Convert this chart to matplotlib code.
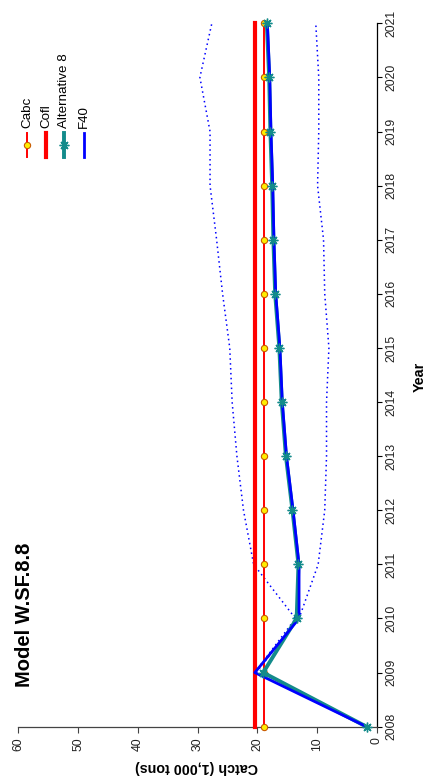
import matplotlib
matplotlib.use("Agg")
import matplotlib.pyplot as plt
from matplotlib.lines import Line2D

plt.rcParams['font.family'] = ['Liberation Sans', 'DejaVu Sans']

# ---- data -------------------------------------------------------------
years = [2008, 2009, 2010, 2011, 2012, 2013, 2014, 2015, 2016, 2017, 2018, 2019, 2020, 2021]
cabc = [18.8] * 14
cofl = [20.4] * 14
alt8 = [1.7, 19.0, 13.4, 13.1, 14.1, 15.2, 15.9, 16.3, 17.0, 17.3, 17.5, 17.8, 18.0, 18.4]
f40 = [1.7, 20.4, 13.0, 13.0, 14.0, 15.1, 15.8, 16.2, 16.9, 17.2, 17.4, 17.7, 17.9, 18.3]
ci_years = [2009, 2010, 2011, 2012, 2013, 2014, 2015, 2016, 2017, 2018, 2019, 2020, 2021]
f40_upper = [20.4, 13.6, 20.6, 22.3, 23.4, 24.2, 24.6, 25.8, 26.8, 27.9, 27.9, 29.6, 27.6]
f40_lower = [20.2, 13.0, 9.8, 8.7, 8.4, 8.4, 8.0, 8.7, 8.9, 9.9, 9.7, 9.7, 10.2]
catch_ticks = [0, 10, 20, 30, 40, 50, 60]
year_labels = [str(y) for y in years]
legend_names = ["Cabc", "Cofl", "Alternative 8", "F40"]
title = "Model W.SF.8.8"
xlabel = "Year"
ylabel = "Catch (1,000 tons)"

# ---- figure (portrait, catch runs right-to-left along the bottom) -----
W, H = 428, 778
fig = plt.figure(figsize=(W / 100, H / 100), dpi=100)
fig.patch.set_facecolor("white")

x0, x1 = 18.3, 376.7     # pixel span of catch axis (60 -> 0)
y_top, y_bot = 23.3, 726.7  # pixel span of year axis (2021 -> 2008)
ax = fig.add_axes([x0 / W, (H - y_bot) / H, (x1 - x0) / W, (y_bot - y_top) / H])
ax.set_xlim(60, 0)
ax.set_ylim(2008, 2021)

teal = "#138b8b"
blue = "#0000ff"
red = "#ff0000"

dot = (0, (1.0, 2.2))
ax.plot(f40_upper, ci_years, color=blue, lw=1.1, ls=dot, clip_on=False, zorder=2)
ax.plot(f40_lower, ci_years, color=blue, lw=1.1, ls=dot, clip_on=False, zorder=2)

ax.plot(cofl, years, color=red, lw=3.0, clip_on=False, zorder=3)
ax.plot(cabc, years, color=red, lw=1.4, marker="o", ms=4.5, mfc="#ffee00",
        mec="#c85a00", mew=0.8, clip_on=False, zorder=4)
ax.plot(alt8, years, color=teal, lw=2.8, clip_on=False, zorder=5)
ax.plot(f40, years, color=blue, lw=2.0, clip_on=False, zorder=6)
ax.plot(alt8, years, ls="none", marker=(8, 2, 0), ms=7, mec=teal, mew=1.0,
        clip_on=False, zorder=7)

# axes styling
for s in ("top", "left"):
    ax.spines[s].set_visible(False)
ax.spines["right"].set_color("black")
ax.spines["right"].set_linewidth(0.9)
ax.spines["bottom"].set_color("#444444")
ax.spines["bottom"].set_linewidth(0.9)

ax.yaxis.tick_right()
ax.set_yticks(years)
ax.set_yticklabels(year_labels, rotation=90, va="center", ha="left", fontsize=8.8,
                   color="#222222")
ax.tick_params(axis="y", length=3.5, width=0.8, pad=3)

ax.set_xticks(catch_ticks)
ax.set_xticklabels([str(t) for t in catch_ticks], rotation=90, ha="center",
                   va="top", fontsize=8.8, color="#222222")
ax.tick_params(axis="x", length=4, width=0.8, pad=3.5, color="#444444")

fig.text(420 / W, (H - 377) / H, xlabel, rotation=90, ha="center", va="center",
         fontsize=10.3, fontweight="bold")
fig.text(197 / W, (H - 767) / H, ylabel, rotation=180, ha="center", va="center",
         fontsize=10.3, fontweight="bold")
fig.text(25 / W, (H - 615) / H, title, rotation=90, ha="center", va="center",
         fontsize=14.5, fontweight="bold")

# ---- legend (rotated) -------------------------------------------------
leg_x = [27, 46, 64, 84]
ly0, ly1 = 133, 157
styles = [
    dict(color=red, lw=1.4, marker="o", ms=4.5, mfc="#ffee00", mec="#c85a00", mew=0.8),
    dict(color=red, lw=3.0),
    dict(color=teal, lw=2.8, marker=(8, 2, 0), ms=7, mec=teal, mew=1.0),
    dict(color=blue, lw=2.0),
]
for xp, name, st in zip(leg_x, legend_names, styles):
    mk = {k: st[k] for k in st if k in ("marker", "ms", "mfc", "mec", "mew")}
    base = {k: st[k] for k in st if k in ("color", "lw")}
    fig.add_artist(Line2D([xp / W, xp / W], [(H - ly0) / H, (H - ly1) / H],
                          transform=fig.transFigure, **base))
    if mk:
        fig.add_artist(Line2D([xp / W], [(H - (ly0 + ly1) / 2) / H],
                              transform=fig.transFigure, ls="none", **mk))
    fig.text(xp / W, (H - 128) / H, name, rotation=90, ha="center", va="bottom",
             fontsize=9.6)

fig.savefig("out.png", dpi=100)
